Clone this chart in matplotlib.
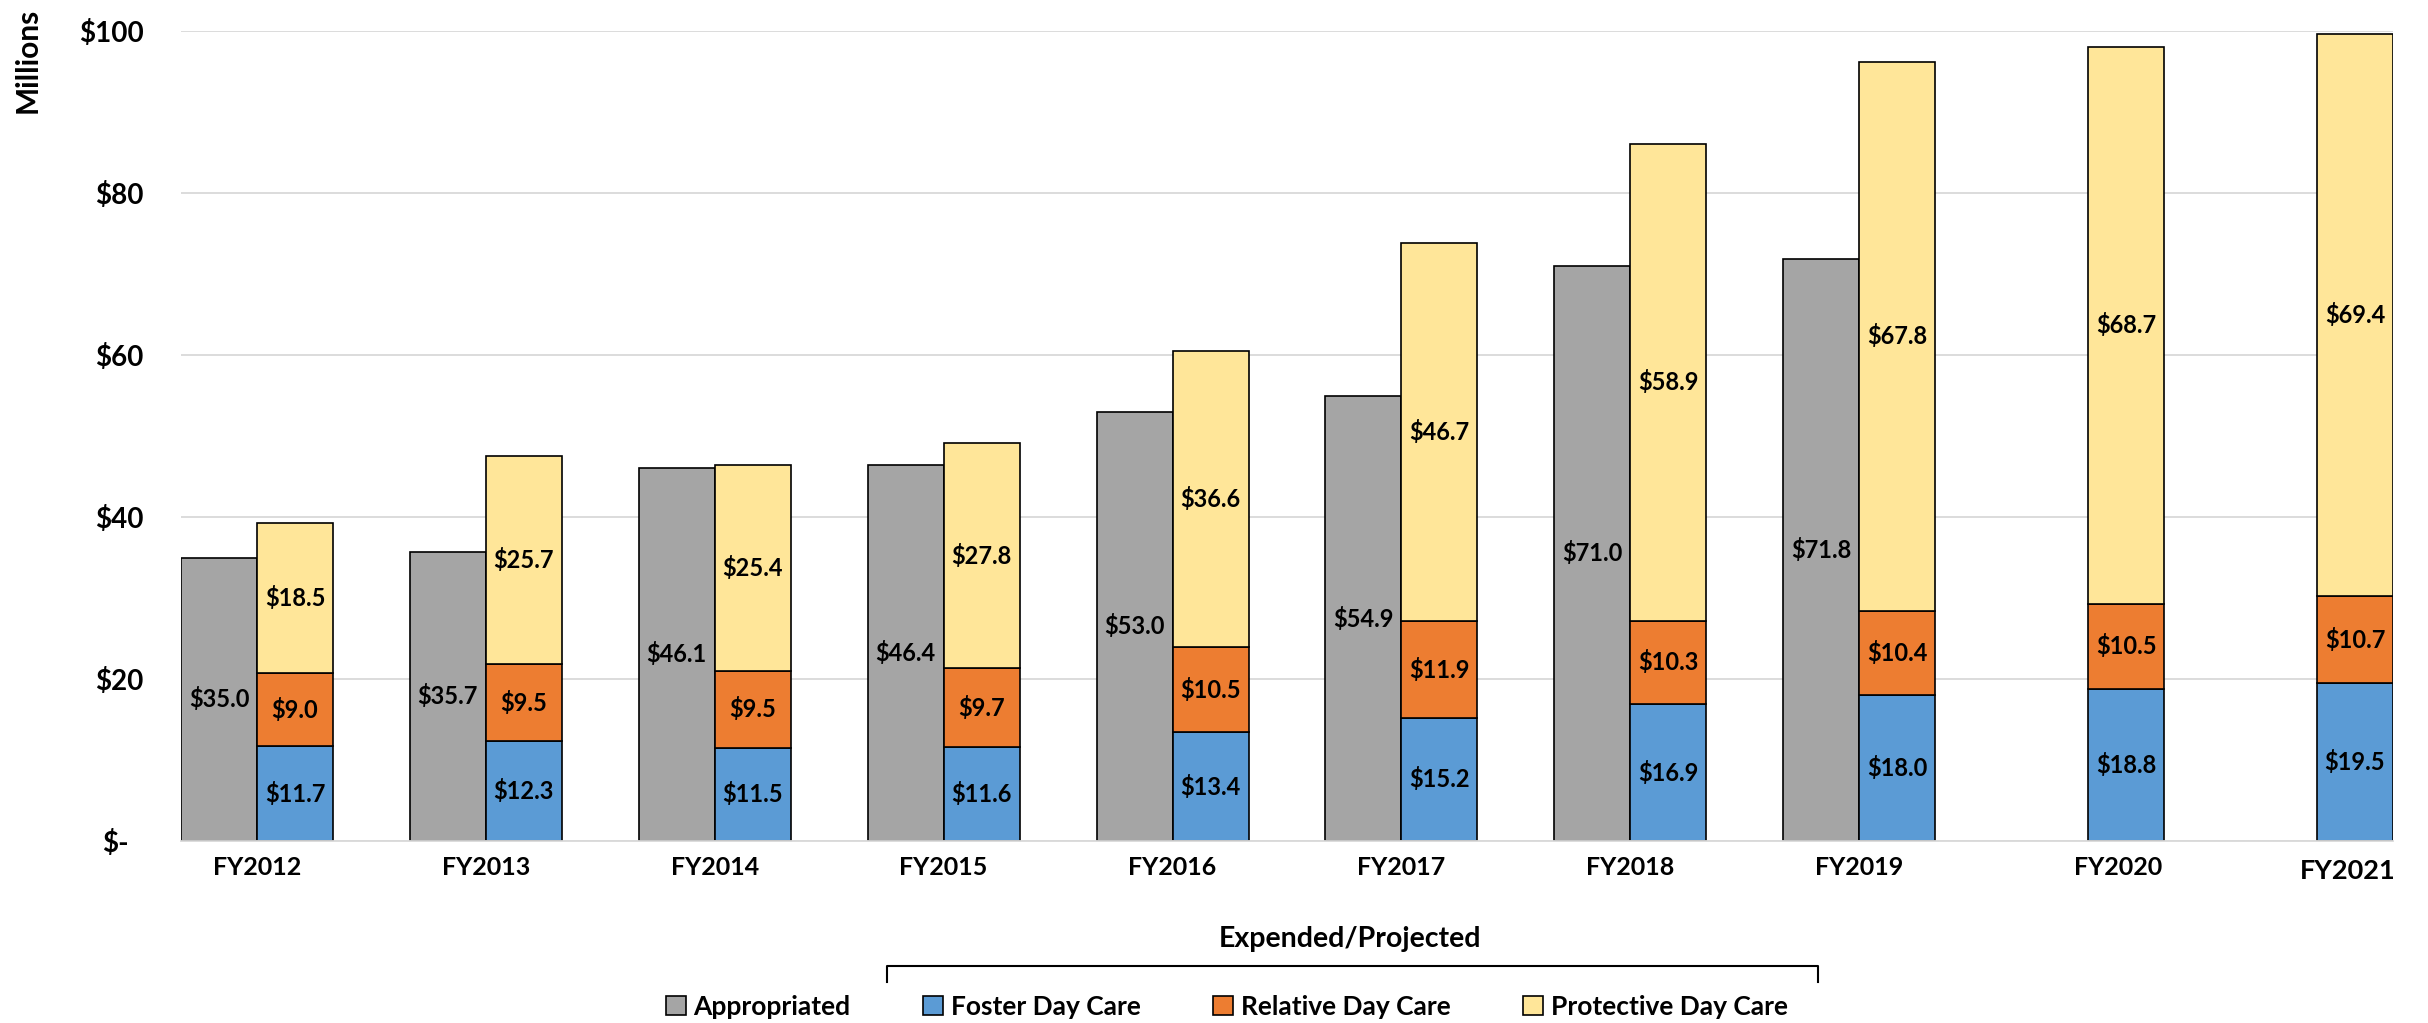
import numpy as np
import matplotlib
matplotlib.use("Agg")
import matplotlib.pyplot as plt
from matplotlib.lines import Line2D
from matplotlib.transforms import ScaledTranslation

'''data read off the chart, in millions of dollars'''
years = ["FY2012", "FY2013", "FY2014", "FY2015", "FY2016",
         "FY2017", "FY2018", "FY2019", "FY2020", "FY2021"]
appropriated = [35.0, 35.7, 46.1, 46.4, 53.0, 54.9, 71.0, 71.8, None, None]
foster = [11.7, 12.3, 11.5, 11.6, 13.4, 15.2, 16.9, 18.0, 18.8, 19.5]
relative = [9.0, 9.5, 9.5, 9.7, 10.5, 11.9, 10.3, 10.4, 10.5, 10.7]
protective = [18.5, 25.7, 25.4, 27.8, 36.6, 46.7, 58.9, 67.8, 68.7, 69.4]
y_ticks = [0, 20, 40, 60, 80, 100]

'''styles'''
plt.rcParams['font.family'] = ['Lato', 'DejaVu Sans']
plt.rcParams['font.weight'] = 'bold'
c_appr = "#A5A5A5"
c_foster = "#5B9BD5"
c_relative = "#ED7D31"
c_protective = "#FFE699"
grid_color = "#D9D9D9"
edge = dict(edgecolor="black", linewidth=1.2)

W, H = 2428, 1023
fig = plt.figure(figsize=(W / 100, H / 100), dpi=100)
# plot area measured in pixels from the reference
ax = fig.add_axes([181 / W, (H - 841) / H, (2393 - 181) / W, 810 / H])

x = np.arange(len(years))
w = 0.332
appr = np.array([np.nan if v is None else v for v in appropriated])
foster = np.array(foster)
relative = np.array(relative)
protective = np.array(protective)
has_appr = ~np.isnan(appr)

# gray bar left of the category centre, stacked bar right of it
b_appr = ax.bar(x[has_appr] - w / 2, appr[has_appr], w, color=c_appr, **edge)
b_foster = ax.bar(x + w / 2, foster, w, color=c_foster, **edge)
b_rel = ax.bar(x + w / 2, relative, w, bottom=foster, color=c_relative, **edge)
b_prot = ax.bar(x + w / 2, protective, w, bottom=foster + relative,
                color=c_protective, **edge)

'''value labels in the middle of every segment'''
lab_kw = dict(ha="center", va="center", fontsize=17, fontweight="bold", color="black")
for i in range(len(years)):
    if has_appr[i]:
        ax.text(x[i] - w / 2, appr[i] / 2, f"${appr[i]:.1f}", **lab_kw)
    ax.text(x[i] + w / 2, foster[i] / 2, f"${foster[i]:.1f}", **lab_kw)
    ax.text(x[i] + w / 2, foster[i] + relative[i] / 2, f"${relative[i]:.1f}", **lab_kw)
    ax.text(x[i] + w / 2, foster[i] + relative[i] + protective[i] / 2,
            f"${protective[i]:.1f}", **lab_kw)

'''axes'''
ax.set_xlim(-w, len(years) - 1 + w)
ax.set_ylim(0, 100)
ax.set_yticks(y_ticks, [f"${v}" if v else "$-" for v in y_ticks])
ax.yaxis.grid(True, color=grid_color, linewidth=1.3)
ax.set_axisbelow(True)
for s in ["top", "right", "left"]:
    ax.spines[s].set_visible(False)
ax.spines["bottom"].set_color(grid_color)
ax.spines["bottom"].set_linewidth(1.3)
ax.tick_params(axis="y", length=0, pad=27, labelsize=20)
ax.tick_params(axis="x", length=0, pad=11, labelsize=18)

# categories without an appropriated bar have their label nearer the bar
tick_pos = np.where(has_appr, x, x + w * 0.4)
ax.set_xticks(tick_pos, years)
for t in ax.get_xticklabels():
    t.set_fontweight("bold")
last = ax.get_xticklabels()[-1]
last.set_fontsize(19.5)
last.set_transform(last.get_transform() + ScaledTranslation(0, -0.03, fig.dpi_scale_trans))
for t in ax.get_yticklabels():
    t.set_fontweight("bold")
# "$-" sits a little left of the other y labels
zero_lab = ax.get_yticklabels()[0]
zero_lab.set_transform(zero_lab.get_transform() + ScaledTranslation(-0.15, 0, fig.dpi_scale_trans))

fig.text(28 / W, 1 - 8 / H, "Millions", rotation=90, ha="center", va="top",
         fontsize=21.5, fontweight="bold")

'''legend and the Expended/Projected bracket'''
fig.legend([b_appr, b_foster, b_rel, b_prot],
           ["Appropriated", "Foster Day Care", "Relative Day Care", "Protective Day Care"],
           loc="center", bbox_to_anchor=(1227 / W, 1 - 1007 / H), ncol=4, frameon=False,
           fontsize=19, handlelength=0.75, handleheight=0.75, handletextpad=0.3,
           columnspacing=2.75, borderpad=0)
fig.text(1350 / W, 1 - 939 / H, "Expended/Projected", ha="center", va="center",
         fontsize=20.5, fontweight="bold")
bx = np.array([887, 887, 1818, 1818]) / W
by = 1 - np.array([982, 966, 966, 982]) / H
fig.add_artist(Line2D(bx, by, color="black", linewidth=1.5, transform=fig.transFigure))

fig.savefig("out.png", dpi=100)
